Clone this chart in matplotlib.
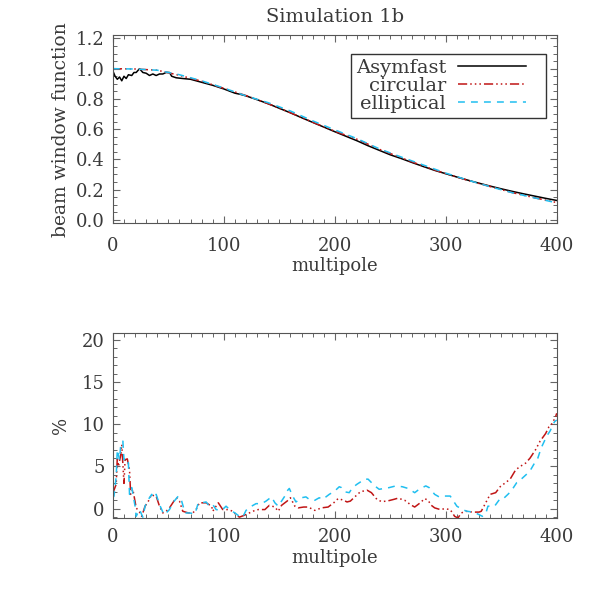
import numpy as np
import matplotlib
matplotlib.use('Agg')
import matplotlib.pyplot as plt
from matplotlib.ticker import MultipleLocator, FormatStrFormatter

plt.rcParams['font.family'] = ['DejaVu Serif']
plt.rcParams['text.color'] = '#3a3a3a'
plt.rcParams['axes.labelcolor'] = '#3a3a3a'

# beam window functions (top panel)
asym_l = [0, 2, 4, 6, 8, 10, 12, 14, 17, 19, 21, 24, 27, 30, 33, 36, 39, 42, 45, 48,
          51, 53, 57, 63, 70, 80, 90, 100, 110, 115, 120, 130, 140, 150, 160, 170, 180,
          190, 200, 210, 220, 230, 240, 250, 260, 270, 280, 290, 300, 310, 320, 330,
          340, 350, 360, 370, 380, 390, 400]
asym_b = [0.985, 0.95, 0.93, 0.945, 0.92, 0.95, 0.935, 0.96, 0.955, 0.975, 0.975, 1.0,
          0.975, 0.97, 0.955, 0.965, 0.955, 0.965, 0.965, 0.975, 0.975, 0.95, 0.94, 0.935,
          0.93, 0.91, 0.89, 0.866, 0.838, 0.83, 0.82, 0.795, 0.768, 0.738, 0.708,
          0.676, 0.645, 0.614, 0.583, 0.553, 0.523, 0.49, 0.46, 0.43, 0.405, 0.378,
          0.352, 0.327, 0.305, 0.283, 0.262, 0.242, 0.223, 0.205, 0.188, 0.172, 0.157,
          0.142, 0.128]
model_l = [0, 20, 40, 60, 80, 100, 120, 140, 160, 180, 200, 220, 240, 260, 280, 300,
           320, 340, 360, 380, 400]
circ_b = [1.0, 0.998, 0.99, 0.956, 0.917, 0.87, 0.822, 0.768, 0.709, 0.646, 0.586,
          0.533, 0.467, 0.41, 0.355, 0.305, 0.261, 0.22, 0.18, 0.146, 0.114]
ellip_b = [1.0, 0.998, 0.99, 0.96, 0.92, 0.872, 0.82, 0.775, 0.72, 0.655, 0.595,
           0.537, 0.47, 0.415, 0.362, 0.309, 0.262, 0.219, 0.179, 0.145, 0.112]

# percent differences (bottom panel)
circ_pl = [0, 1, 3, 4, 5, 7, 8, 10, 11, 13, 15, 16, 18, 21, 24, 26, 29, 32, 35, 37, 39,
           42, 45, 48, 51, 54, 57, 60, 63, 68, 72, 75, 78, 84, 89, 90, 95, 99, 104, 108,
           111, 114, 118, 123, 126, 131, 137, 141, 146, 149, 152, 157, 160, 164, 167,
           172, 176, 182, 188, 194, 199, 203, 208, 211, 214, 218, 223, 229, 233, 238,
           242, 247, 253, 257, 263, 268, 272, 277, 281, 284, 287, 290, 295, 299, 304,
           308, 311, 314, 318, 324, 330, 332, 336, 340, 345, 349, 354, 358, 363, 367,
           372, 376, 381, 385, 390, 393, 396, 399, 400]
circ_pct = [1.8, 2.2, 2.9, 6.1, 5.0, 6.3, 7.6, 3.0, 5.8, 5.9, 4.6, 1.7, 2.3, 0.1, -0.4,
            -0.9, 0.3, 0.9, 1.7, 1.5, 1.5, 0.3, -0.5, -0.3, 0.1, 0.7, 1.3, 0.9, -0.3,
            -0.5, -0.5, -0.1, 0.7, 0.7, 0.3, -0.3, 0.7, -0.1, -0.1, -0.3, -0.7, -1.0,
            -0.8, -0.5, -0.3, -0.1, -0.1, 0.4, 0.2, -0.3, 0.4, 0.9, 1.3, 0.3, 0.1, 0.2,
            0.2, -0.2, 0.1, 0.2, 0.7, 1.2, 1.0, 0.8, 0.9, 1.4, 2.0, 2.2, 1.9, 1.1, 0.85,
            0.9, 1.1, 1.25, 1.0, 0.5, 0.2, 0.7, 1.2, 1.0, 0.4, 0.1, -0.1, 0.0, -0.1,
            -0.9, -1.1, -0.5, -0.3, -0.4, -0.4, -0.3, 0.7, 1.7, 1.9, 2.6, 3.1, 3.5, 4.6,
            5.0, 5.4, 6.0, 7.0, 8.0, 8.9, 9.7, 10.1, 10.9, 11.3]
ellip_pl = [0, 1, 3, 4, 6, 7, 9, 10, 12, 14, 15, 17, 18, 20, 21, 24, 27, 29, 32, 35, 36,
            39, 42, 46, 48, 51, 54, 59, 62, 65, 69, 74, 77, 80, 84, 87, 90, 93, 98, 102,
            106, 110, 114, 117, 120, 125, 129, 134, 138, 141, 143, 146, 149, 152, 155,
            157, 159, 162, 165, 170, 174, 177, 182, 186, 189, 195, 200, 204, 206, 209,
            213, 216, 220, 227, 230, 236, 240, 249, 255, 261, 266, 272, 276, 282, 285,
            290, 294, 298, 304, 307, 310, 315, 319, 325, 330, 333, 336, 338, 344, 349,
            352, 356, 359, 364, 368, 373, 376, 380, 383, 386, 391, 394, 398, 400]
ellip_pct = [1.3, 1.5, 3.8, 7.0, 5.8, 7.4, 8.0, 5.8, 6.0, 5.4, 1.7, 2.5, 1.8, 0.3, -0.9,
             -0.1, -1.0, 0.3, 1.1, 1.7, 1.3, 1.7, 0.5, -0.7, -0.5, -0.1, 0.7, 1.5, 0.9,
             -0.5, -0.5, -0.6, 0.7, 0.7, 0.8, 0.3, 0.5, -0.1, -0.2, 0.3, -0.2, -0.5,
             -0.9, -1.0, -0.2, 0.3, 0.6, 0.6, 0.9, 1.2, 1.4, 0.7, 0.3, 0.9, 1.5, 2.1,
             2.4, 1.5, 0.8, 1.3, 1.4, 1.1, 1.0, 1.3, 1.1, 1.7, 2.1, 2.6, 2.5, 2.0, 1.9,
             2.5, 2.9, 3.5, 3.5, 2.7, 2.3, 2.5, 2.7, 2.6, 2.4, 1.9, 2.3, 2.7, 2.5, 1.7,
             1.4, 1.5, 1.5, 0.9, 0.3, -0.1, -0.3, -0.4, -0.7, -0.9, -0.6, 0.3, 0.3, 1.2,
             1.2, 1.7, 2.1, 3.1, 3.5, 4.1, 4.5, 5.4, 6.0, 7.2, 8.6, 9.2, 10.3, 10.5]

RED = '#c01515'
CYAN = '#20bff0'
ddd = (0, (6, 2, 1, 2, 1, 2, 1, 2))
dash = (0, (4.5, 4))

fig = plt.figure(figsize=(5.91, 5.91), dpi=100)
ax1 = fig.add_axes([0.191, 0.623, 0.751, 0.317])
ax2 = fig.add_axes([0.191, 0.1235, 0.751, 0.313])

ax1.plot(asym_l, asym_b, color='black', lw=1.1, label='Asymfast')
ax1.plot(model_l, circ_b, color=RED, lw=1.1, linestyle=ddd, label='circular')
ax1.plot(model_l, ellip_b, color=CYAN, lw=1.1, linestyle=dash, label='elliptical')

ax2.plot(circ_pl, circ_pct, color=RED, lw=1.1, linestyle=ddd)
ax2.plot(ellip_pl, ellip_pct, color=CYAN, lw=1.1, linestyle=dash)

ax1.set_xlim(0, 400)
ax1.set_ylim(-0.02, 1.22)
ax2.set_xlim(0, 400)
ax2.set_ylim(-1.1, 20.8)

for ax in (ax1, ax2):
    ax.xaxis.set_major_locator(MultipleLocator(100))
    ax.xaxis.set_minor_locator(MultipleLocator(10))
    ax.tick_params(which='both', direction='in', top=True, right=True,
                   colors='#666666', labelcolor='#3a3a3a', labelsize=13)
    ax.tick_params(which='major', length=5, width=0.8)
    ax.tick_params(which='minor', length=2.8, width=0.7)
    ax.tick_params(axis='y', which='major', pad=6)
    for s in ax.spines.values():
        s.set_color('#555555')
        s.set_linewidth(0.8)
    ax.set_xlabel('multipole', fontsize=13, labelpad=2)
ax1.tick_params(axis='x', which='major', pad=10)
ax2.tick_params(axis='x', which='major', pad=7)

ax1.yaxis.set_major_locator(MultipleLocator(0.2))
ax1.yaxis.set_minor_locator(MultipleLocator(0.05))
ax1.yaxis.set_major_formatter(FormatStrFormatter('%.1f'))
ax2.yaxis.set_major_locator(MultipleLocator(5))
ax2.yaxis.set_minor_locator(MultipleLocator(1))

ax1.set_ylabel('beam window function', fontsize=13.5, labelpad=4)
ax2.set_ylabel('%', fontsize=13, labelpad=8)
ax1.set_title('Simulation 1b', fontsize=14, pad=10)

leg = ax1.legend(loc='upper left', bbox_to_anchor=(0.536, 0.5, 0.439, 0.401),
                 mode='expand', fontsize=14, markerfirst=False, handlelength=3.5,
                 handletextpad=0.6, labelspacing=0.0, borderpad=0.25,
                 borderaxespad=0, fancybox=False, framealpha=1)
leg.get_frame().set_edgecolor('#333333')
leg.get_frame().set_linewidth(1.0)

fig.savefig('out.png', dpi=100)
